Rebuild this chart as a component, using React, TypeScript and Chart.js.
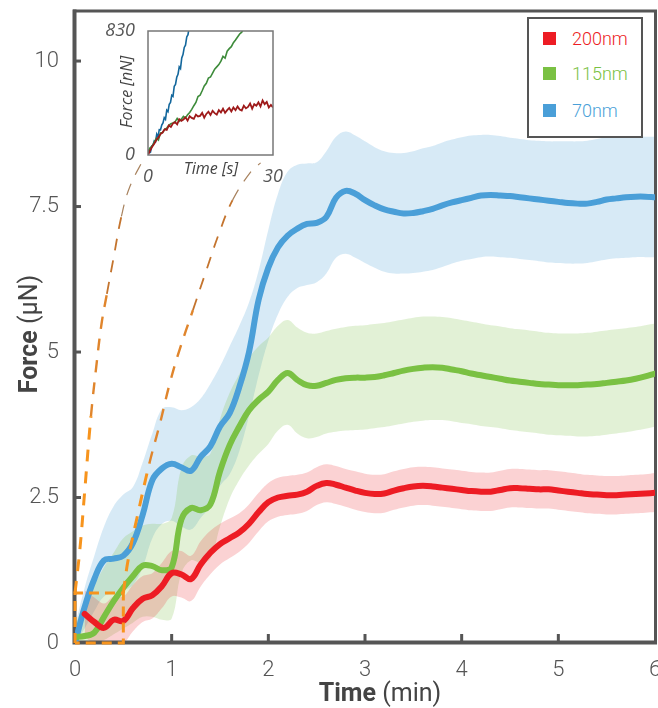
import React, { useEffect, useRef } from 'react';
import { Chart, registerables } from 'chart.js';
Chart.register(...registerables);

// ---------- main chart data (time in min, force in µN) ----------
const timeMin = [0, 0.1, 0.2, 0.3, 0.4, 0.5, 0.6, 0.7, 0.8, 0.9, 1.0, 1.1, 1.2, 1.3, 1.4, 1.5, 1.6, 1.7, 1.8, 1.9, 2.0, 2.1, 2.2, 2.3, 2.4, 2.5, 2.6, 2.7, 2.8, 2.9, 3.0, 3.1, 3.2, 3.3, 3.4, 3.5, 3.6, 3.7, 3.8, 3.9, 4.0, 4.1, 4.2, 4.3, 4.4, 4.5, 4.6, 4.7, 4.8, 4.9, 5.0, 5.1, 5.2, 5.3, 5.4, 5.5, 5.6, 5.7, 5.8, 5.9, 6.0];

const blueMean = [0.0, 0.62, 1.1, 1.42, 1.45, 1.5, 1.72, 2.2, 2.8, 3.0, 3.08, 3.02, 2.96, 3.2, 3.38, 3.72, 3.95, 4.4, 5.0, 5.9, 6.45, 6.8, 7.0, 7.12, 7.2, 7.22, 7.32, 7.65, 7.77, 7.72, 7.61, 7.52, 7.45, 7.41, 7.38, 7.39, 7.42, 7.46, 7.52, 7.57, 7.61, 7.65, 7.69, 7.7, 7.69, 7.68, 7.66, 7.64, 7.62, 7.6, 7.58, 7.56, 7.55, 7.55, 7.58, 7.62, 7.64, 7.66, 7.67, 7.67, 7.66];
const blueUpper = [0.3, 0.95, 1.5, 2.0, 2.35, 2.55, 2.68, 3.1, 3.6, 4.02, 4.05, 4.0, 4.05, 4.2, 4.45, 4.75, 5.1, 5.45, 5.85, 6.4, 7.1, 7.72, 8.1, 8.22, 8.24, 8.26, 8.45, 8.7, 8.79, 8.72, 8.62, 8.52, 8.45, 8.42, 8.42, 8.45, 8.5, 8.54, 8.6, 8.65, 8.69, 8.72, 8.73, 8.73, 8.71, 8.68, 8.66, 8.64, 8.63, 8.62, 8.62, 8.62, 8.62, 8.63, 8.66, 8.69, 8.71, 8.71, 8.71, 8.7, 8.7];
const blueLower = [0.0, 0.25, 0.55, 0.8, 0.85, 0.9, 1.0, 1.3, 1.8, 2.05, 2.1, 2.0, 1.95, 2.15, 2.35, 2.7, 2.9, 3.3, 3.9, 4.6, 5.2, 5.65, 5.95, 6.1, 6.15, 6.2, 6.35, 6.62, 6.69, 6.62, 6.53, 6.45, 6.38, 6.35, 6.35, 6.36, 6.38, 6.41, 6.46, 6.52, 6.57, 6.6, 6.63, 6.64, 6.63, 6.62, 6.6, 6.58, 6.56, 6.54, 6.53, 6.52, 6.52, 6.53, 6.56, 6.59, 6.61, 6.62, 6.63, 6.63, 6.63];

const greenMean = [0.1, 0.12, 0.18, 0.45, 0.72, 0.95, 1.15, 1.33, 1.32, 1.25, 1.3, 2.12, 2.32, 2.28, 2.38, 2.95, 3.4, 3.72, 4.0, 4.18, 4.32, 4.52, 4.64, 4.52, 4.43, 4.42, 4.47, 4.52, 4.55, 4.56, 4.56, 4.57, 4.6, 4.64, 4.68, 4.71, 4.73, 4.74, 4.73, 4.7, 4.67, 4.63, 4.6, 4.57, 4.54, 4.51, 4.49, 4.47, 4.45, 4.44, 4.43, 4.43, 4.43, 4.44, 4.45, 4.47, 4.49, 4.51, 4.54, 4.58, 4.63];
const greenUpper = [0.3, 0.7, 1.0, 1.3, 1.55, 1.8, 1.92, 2.02, 2.05, 2.05, 2.15, 3.0, 3.22, 3.2, 3.25, 3.85, 4.3, 4.62, 4.9, 5.1, 5.25, 5.45, 5.55, 5.42, 5.33, 5.32, 5.36, 5.4, 5.43, 5.45, 5.46, 5.48, 5.5, 5.53, 5.56, 5.59, 5.61, 5.61, 5.6, 5.58, 5.55, 5.52, 5.49, 5.46, 5.44, 5.41, 5.39, 5.37, 5.35, 5.33, 5.32, 5.32, 5.32, 5.33, 5.35, 5.37, 5.39, 5.41, 5.43, 5.46, 5.49];
const greenLower = [0.0, 0.0, 0.0, 0.05, 0.15, 0.25, 0.35, 0.45, 0.45, 0.4, 0.42, 1.2, 1.42, 1.38, 1.45, 2.0, 2.48, 2.8, 3.05, 3.25, 3.42, 3.65, 3.75, 3.6, 3.52, 3.54, 3.6, 3.63, 3.65, 3.66, 3.67, 3.69, 3.71, 3.74, 3.77, 3.8, 3.82, 3.83, 3.83, 3.81, 3.78, 3.76, 3.73, 3.71, 3.69, 3.66, 3.64, 3.62, 3.6, 3.58, 3.57, 3.56, 3.55, 3.55, 3.56, 3.58, 3.6, 3.62, 3.65, 3.68, 3.72];

const redMean = [null, 0.5, 0.36, 0.26, 0.4, 0.38, 0.6, 0.76, 0.82, 0.98, 1.2, 1.18, 1.1, 1.35, 1.55, 1.7, 1.8, 1.9, 2.05, 2.25, 2.42, 2.5, 2.53, 2.55, 2.6, 2.7, 2.75, 2.72, 2.67, 2.62, 2.58, 2.56, 2.57, 2.62, 2.66, 2.69, 2.7, 2.69, 2.67, 2.65, 2.63, 2.61, 2.6, 2.6, 2.63, 2.66, 2.66, 2.65, 2.64, 2.64, 2.62, 2.6, 2.58, 2.56, 2.55, 2.54, 2.54, 2.55, 2.56, 2.57, 2.58];
const redUpper = [null, 0.9, 0.78, 0.68, 0.8, 0.8, 1.0, 1.15, 1.2, 1.38, 1.58, 1.58, 1.5, 1.75, 1.93, 2.05, 2.14, 2.23, 2.38, 2.58, 2.75, 2.84, 2.87, 2.89, 2.93, 3.02, 3.07, 3.04, 2.99, 2.95, 2.91, 2.89, 2.9, 2.95, 2.99, 3.02, 3.03, 3.02, 3.0, 2.98, 2.96, 2.94, 2.93, 2.93, 2.96, 2.99, 2.99, 2.98, 2.97, 2.97, 2.95, 2.93, 2.91, 2.89, 2.88, 2.87, 2.87, 2.88, 2.89, 2.9, 2.92];
const redLower = [null, 0.1, 0.0, 0.0, 0.02, 0.0, 0.2, 0.36, 0.42, 0.6, 0.8, 0.78, 0.72, 0.97, 1.18, 1.35, 1.46, 1.57, 1.72, 1.92, 2.09, 2.17, 2.2, 2.22, 2.27, 2.37, 2.42, 2.39, 2.34, 2.29, 2.25, 2.23, 2.24, 2.29, 2.33, 2.36, 2.37, 2.36, 2.34, 2.32, 2.3, 2.28, 2.27, 2.27, 2.3, 2.33, 2.33, 2.32, 2.31, 2.31, 2.29, 2.27, 2.25, 2.23, 2.22, 2.21, 2.21, 2.22, 2.23, 2.24, 2.25];

// zoom guides (dashed)
const zoomBoxX = [0, 0, 0.5, 0.5, 0];
const zoomBoxY = [0, 0.86, 0.86, 0, 0];
const guideLeftX = [0, 0.05, 0.1, 0.165, 0.22, 0.275, 0.33, 0.395, 0.48, 0.567, 0.72];
const guideLeftY = [0.86, 1.6, 2.6, 3.9, 4.75, 5.49, 6.0, 6.58, 7.33, 7.84, 8.35];
const guideRightX = [0.5, 0.55, 0.66, 0.77, 0.88, 0.98, 1.08, 1.22, 1.36, 1.49, 1.63, 1.82, 1.92];
const guideRightY = [0.86, 1.43, 2.29, 3.09, 3.78, 4.46, 5.03, 5.72, 6.41, 7.04, 7.61, 8.1, 8.25];

const xTicks = [0, 1, 2, 3, 4, 5, 6];
const yTicks = [0, 2.5, 5, 7.5, 10];

const seriesNames = ['200nm', '115nm', '70nm'];
const seriesColors = ['#ed1c24', '#7ac143', '#4a9fd8'];

// ---------- inset data (time in s, force in nN) ----------
const insetBlueT = [0, 0.3, 0.6, 0.9, 1.2, 1.5, 1.8, 2.1, 2.4, 2.7, 3.0, 3.3, 3.6, 3.9, 4.2, 4.5, 4.8, 5.1, 5.4, 5.7, 6.0, 6.3, 6.6, 6.9, 7.2, 7.5, 7.8, 8.1, 8.4, 8.7, 9.0, 9.3, 9.6, 9.9];
const insetBlueF = [3, 28, 20, 60, 66, 95, 88, 140, 122, 170, 168, 200, 215, 250, 238, 300, 290, 340, 352, 400, 392, 460, 472, 520, 540, 590, 578, 650, 672, 720, 735, 790, 805, 860];
const insetGreenT = [0, 0.5, 1, 1.5, 2, 2.5, 3, 3.5, 4, 4.5, 5, 5.5, 6, 6.5, 7, 7.5, 8, 8.5, 9, 9.5, 10, 10.5, 11, 11.5, 12, 12.5, 13, 13.5, 14, 14.5, 15, 15.5, 16, 16.5, 17, 17.5, 18, 18.5, 19, 19.5, 20, 20.5, 21, 21.5, 22, 22.5, 23, 23.5];
const insetGreenF = [22, 48, 60, 85, 112, 100, 148, 150, 172, 180, 198, 210, 215, 222, 245, 226, 240, 258, 248, 270, 285, 305, 330, 352, 392, 400, 430, 462, 480, 515, 522, 548, 575, 590, 605, 628, 660, 648, 695, 712, 725, 752, 770, 790, 810, 822, 850, 860];
const insetRedT = [0, 0.5, 1, 1.5, 2, 2.5, 3, 3.5, 4, 4.5, 5, 5.5, 6, 6.5, 7, 7.5, 8, 8.5, 9, 9.5, 10, 10.5, 11, 11.5, 12, 12.5, 13, 13.5, 14, 14.5, 15, 15.5, 16, 16.5, 17, 17.5, 18, 18.5, 19, 19.5, 20, 20.5, 21, 21.5, 22, 22.5, 23, 23.5, 24, 24.5, 25, 25.5, 26, 26.5, 27, 27.5, 28, 28.5, 29, 29.5, 30];
const insetRedF = [0, 30, 55, 75, 100, 118, 140, 150, 172, 168, 198, 188, 212, 220, 205, 240, 228, 238, 252, 230, 260, 248, 242, 270, 258, 262, 282, 250, 275, 290, 268, 296, 280, 270, 300, 285, 310, 282, 300, 315, 292, 318, 300, 325, 305, 298, 330, 312, 322, 345, 310, 340, 330, 352, 325, 365, 340, 355, 318, 335, 318];
const insetXTicks = [0, 30];
const insetYTicks = [0, 830];

const pts = (xs: number[], ys: (number | null)[]) => xs.map((x, i) => ({ x, y: ys[i] }));

const AXIS = '#555';

const mainPlugin = {
  id: 'mainFrame',
  beforeDatasetsDraw(chart: any) {
    const { ctx, chartArea: a, scales } = chart;
    ctx.save();
    ctx.strokeStyle = AXIS;
    ctx.lineCap = 'butt';
    ctx.lineWidth = 3;
    ctx.beginPath();
    ctx.moveTo(a.left - 2, a.top);
    ctx.lineTo(a.right + 0.5, a.top);
    ctx.lineTo(a.right + 0.5, a.bottom);
    ctx.stroke();
    ctx.lineWidth = 4;
    ctx.beginPath();
    ctx.moveTo(a.left - 0.5, a.top - 1.5);
    ctx.lineTo(a.left - 0.5, a.bottom - 0.5);
    ctx.lineTo(a.right + 2, a.bottom - 0.5);
    ctx.stroke();
    ctx.lineWidth = 3;
    yTicks.forEach((v) => {
      if (v === 0) return;
      const y = scales.y.getPixelForValue(v);
      ctx.beginPath();
      ctx.moveTo(a.left, y);
      ctx.lineTo(a.left + 6, y);
      ctx.stroke();
    });
    xTicks.forEach((v) => {
      if (v === 0 || v === 6) return;
      const x = scales.x.getPixelForValue(v);
      ctx.beginPath();
      ctx.moveTo(x, a.bottom);
      ctx.lineTo(x, a.bottom - 9);
      ctx.stroke();
    });
    ctx.restore();
  },
  afterDraw(chart: any) {
    const { ctx } = chart;
    ctx.save();
    ctx.fillStyle = '#444';
    ctx.textBaseline = 'alphabetic';
    ctx.textAlign = 'left';
    const drawTitle = (bold: string, rest: string) => {
      ctx.font = 'bold 25px Roboto';
      const w1 = ctx.measureText(bold).width;
      ctx.font = '400 25px Roboto';
      const w2 = ctx.measureText(rest).width;
      const start = -(w1 + w2) / 2;
      ctx.font = 'bold 25px Roboto';
      ctx.fillText(bold, start, 0);
      ctx.font = '400 25px Roboto';
      ctx.fillText(rest, start + w1, 0);
    };
    ctx.save();
    ctx.translate(380, 701);
    drawTitle('Time', ' (min)');
    ctx.restore();
    ctx.save();
    ctx.translate(37, 334);
    ctx.rotate(-Math.PI / 2);
    drawTitle('Force', ' (\u03bcN)');
    ctx.restore();
    ctx.restore();
  },
};

const insetPlugin = {
  id: 'insetFrame',
  beforeDatasetsDraw(chart: any) {
    const { ctx, chartArea: a } = chart;
    ctx.save();
    ctx.fillStyle = '#fff';
    ctx.fillRect(a.left, a.top, a.right - a.left, a.bottom - a.top);
    ctx.restore();
  },
  afterDatasetsDraw(chart: any) {
    const { ctx, chartArea: a } = chart;
    ctx.save();
    ctx.strokeStyle = '#777';
    ctx.lineWidth = 1.5;
    ctx.strokeRect(a.left, a.top, a.right - a.left, a.bottom - a.top);
    ctx.fillStyle = '#444';
    ctx.font = 'italic 400 16px "Open Sans"';
    ctx.textAlign = 'center';
    ctx.textBaseline = 'alphabetic';
    ctx.fillText('Time [s]', 111, 159);
    ctx.save();
    ctx.translate(32, 77);
    ctx.rotate(-Math.PI / 2);
    ctx.fillText('Force [nN]', 0, 0);
    ctx.restore();
    ctx.restore();
  },
};

const guideSegment = {
  borderWidth: (c: any) => {
    const y = c.p0.parsed.y;
    return y < 3 ? 3 : y < 5.5 ? 2.4 : y < 7.2 ? 1.8 : 1.2;
  },
  borderColor: (c: any) => {
    const y = c.p0.parsed.y;
    return y < 3 ? '#f7941d' : y < 5.5 ? '#e0852c' : y < 7.2 ? '#c4742e' : '#a8825e';
  },
};

export default function App() {
  const mainRef = useRef<HTMLCanvasElement>(null);
  const insetRef = useRef<HTMLCanvasElement>(null);

  useEffect(() => {
    const band = (ys: (number | null)[], color: string, fill: any) => ({
      data: pts(timeMin, ys),
      borderWidth: 0,
      borderColor: 'rgba(0,0,0,0)',
      backgroundColor: color,
      fill,
      pointRadius: 0,
      tension: 0.4,
      order: 10,
    });
    const line = (ys: (number | null)[], color: string, order: number) => ({
      data: pts(timeMin, ys),
      borderWidth: 6,
      borderColor: color,
      fill: false,
      pointRadius: 0,
      tension: 0.4,
      borderCapStyle: 'round',
      borderJoinStyle: 'round',
      order,
    });
    const guide = (xs: number[], ys: number[], dash: number[], tension: number) => ({
      data: pts(xs, ys),
      borderWidth: 3,
      borderColor: '#f7941d',
      borderDash: dash,
      fill: false,
      pointRadius: 0,
      tension,
      clip: false,
      segment: guideSegment,
      order: 0,
    });

    const main = new Chart(mainRef.current!, {
      type: 'line',
      data: {
        datasets: [
          { ...guide(zoomBoxX, zoomBoxY, [10, 6], 0), segment: undefined },
          guide(guideLeftX, guideLeftY, [12, 10], 0.4),
          guide(guideRightX, guideRightY, [12, 10], 0.4),
          line(redMean, seriesColors[0], 1),
          line(greenMean, seriesColors[1], 2),
          line(blueMean, seriesColors[2], 3),
          band(redUpper, 'rgba(237,28,36,0.2)', 7),
          band(redLower, 'rgba(237,28,36,0.2)', false),
          band(greenUpper, 'rgba(122,193,67,0.22)', 9),
          band(greenLower, 'rgba(122,193,67,0.22)', false),
          band(blueUpper, 'rgba(74,159,216,0.22)', 11),
          band(blueLower, 'rgba(74,159,216,0.22)', false),
        ] as any,
      },
      options: {
        responsive: false,
        animation: false,
        events: [],
        layout: { padding: { left: 0, right: 3, top: 11, bottom: 0 } },
        plugins: {
          legend: { display: false },
          tooltip: { enabled: false },
          filler: { drawTime: 'beforeDatasetsDraw' },
        } as any,
        scales: {
          x: {
            type: 'linear',
            min: 0,
            max: 6,
            grid: { display: false },
            border: { display: false },
            afterBuildTicks: (s: any) => { s.ticks = xTicks.map((v) => ({ value: v })); },
            afterFit: (s: any) => { s.height = 65; s.paddingLeft = 0; s.paddingRight = 0; },
            ticks: {
              autoSkip: false,
              maxRotation: 0,
              padding: 6,
              color: AXIS,
              font: { family: 'Roboto', size: 22, weight: '300' } as any,
              callback: (v: any) => String(v),
            },
          },
          y: {
            type: 'linear',
            min: 0,
            max: 10.86,
            grid: { display: false },
            border: { display: false },
            afterBuildTicks: (s: any) => { s.ticks = yTicks.map((v) => ({ value: v })); },
            afterFit: (s: any) => { s.width = 75; s.paddingTop = 0; s.paddingBottom = 0; },
            ticks: {
              autoSkip: false,
              padding: 8,
              color: AXIS,
              font: { family: 'Roboto', size: 22, weight: '300' } as any,
              callback: (v: any) => String(v),
            },
          },
        },
      },
      plugins: [mainPlugin],
    });

    const insetLine = (xs: number[], ys: number[], color: string, order: number, w: number) => ({
      data: pts(xs, ys),
      borderWidth: w,
      borderColor: color,
      fill: false,
      pointRadius: 0,
      tension: 0,
      order,
    });
    const insetFont = { family: 'Open Sans', size: 18, style: 'italic', weight: '400' } as any;
    const inset = new Chart(insetRef.current!, {
      type: 'line',
      data: {
        datasets: [
          insetLine(insetRedT, insetRedF, '#9e1a1a', 0, 1.8),
          insetLine(insetGreenT, insetGreenF, '#3d8b3a', 1, 1.6),
          insetLine(insetBlueT, insetBlueF, '#13679c', 2, 1.6),
        ] as any,
      },
      options: {
        responsive: false,
        animation: false,
        events: [],
        layout: { padding: { left: 0, right: 17, top: 16, bottom: 0 } },
        plugins: { legend: { display: false }, tooltip: { enabled: false } },
        scales: {
          x: {
            type: 'linear',
            min: 0,
            max: 30,
            grid: { display: false },
            border: { display: false },
            afterBuildTicks: (s: any) => { s.ticks = insetXTicks.map((v) => ({ value: v })); },
            afterFit: (s: any) => { s.height = 35; s.paddingLeft = 0; s.paddingRight = 0; },
            ticks: {
              autoSkip: false,
              maxRotation: 0,
              padding: 3,
              color: '#555',
              font: insetFont,
            },
          },
          y: {
            type: 'linear',
            min: 0,
            max: 830,
            grid: { display: false },
            border: { display: false },
            afterBuildTicks: (s: any) => { s.ticks = insetYTicks.map((v) => ({ value: v })); },
            afterFit: (s: any) => { s.width = 48; s.paddingTop = 0; s.paddingBottom = 0; },
            ticks: {
              autoSkip: false,
              padding: 5,
              color: '#555',
              font: insetFont,
            },
          },
        },
      },
      plugins: [insetPlugin],
    });

    return () => {
      main.destroy();
      inset.destroy();
    };
  }, []);

  const legendTops = [22, 57, 94];
  return (
    <div style={{ position: 'fixed', left: 0, top: 0, width: 658, height: 708, background: '#fff', overflow: 'hidden' }}>
      <canvas ref={mainRef} width={658} height={708} style={{ position: 'absolute', left: 0, top: 0 }} />
      <canvas ref={insetRef} width={190} height={175} style={{ position: 'absolute', left: 100, top: 15 }} />
      <div
        style={{
          position: 'absolute',
          left: 527,
          top: 17,
          width: 112,
          height: 117,
          border: '2px solid #555',
          background: '#fff',
        }}
      >
        {seriesNames.map((name, i) => (
          <div key={name} style={{ position: 'absolute', left: 0, top: legendTops[i] - 2 - 11, height: 22, width: 112 }}>
            <div style={{ position: 'absolute', left: 14, top: 4, width: 13, height: 13, background: seriesColors[i] }} />
            <div
              style={{
                position: 'absolute',
                left: 43,
                top: 0,
                lineHeight: '22px',
                fontFamily: 'Roboto',
                fontWeight: 300,
                fontSize: 18,
                color: seriesColors[i],
                whiteSpace: 'nowrap',
              }}
            >
              {name}
            </div>
          </div>
        ))}
      </div>
    </div>
  );
}
